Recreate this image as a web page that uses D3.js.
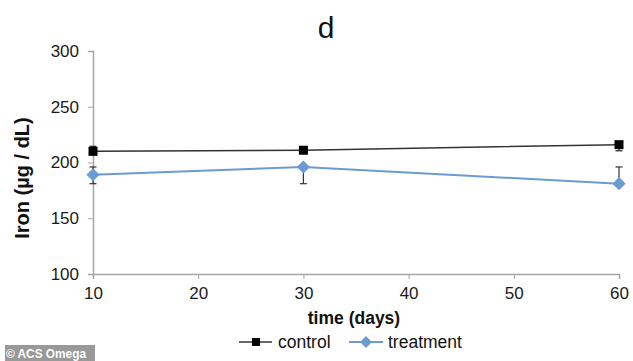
<!DOCTYPE html>
<html>
<head>
<meta charset="utf-8">
<style>
  body { margin: 0; background: #fff; }
  svg { display: block; font-family: 'Liberation Sans', Arial, sans-serif; }
</style>
</head>
<body>
<svg width="633" height="361"></svg>
<script src="https://d3js.org/d3.v7.min.js"></script>
<script>
// data
let days = [10, 30, 60]
let control = [210, 211, 216]
let controlPlus = [4.5, 0, 0]
let controlMinus = [0, 0, 5.5]
let treatment = [189, 196, 181]
let treatmentPlus = [7, 0, 15]
let treatmentMinus = [8, 15, 0]
let xTicks = [10, 20, 30, 40, 50, 60]
let yTicks = [100, 150, 200, 250, 300]

let svg = d3.select("svg")

let x = d3.scaleLinear().domain([10, 60]).range([93, 619])
let y = d3.scaleLinear().domain([100, 300]).range([274, 51])

let axisColor = "#a6a6a6"

// y axis
let yAxis = svg.append("g")
    .attr("transform", "translate(93,0)")
    .call(d3.axisLeft(y).tickValues(yTicks).tickSize(5).tickPadding(9))
yAxis.select(".domain").attr("stroke", axisColor).attr("stroke-width", 1.5)
yAxis.selectAll(".tick line").attr("stroke", axisColor)
yAxis.selectAll(".tick text").attr("font-size", 17).attr("fill", "#1a1a1a")
    .attr("font-family", "'Liberation Sans', Arial, sans-serif")

// x axis
let xAxis = svg.append("g")
    .attr("transform", "translate(0,274)")
    .call(d3.axisBottom(x).tickValues(xTicks).tickSize(5).tickPadding(8))
xAxis.select(".domain").attr("stroke", axisColor).attr("stroke-width", 1.5)
xAxis.selectAll(".tick line").attr("stroke", axisColor)
xAxis.selectAll(".tick text").attr("font-size", 17).attr("fill", "#1a1a1a")
    .attr("font-family", "'Liberation Sans', Arial, sans-serif")

function errorBars(vals, plus, minus, color) {
    let g = svg.append("g")
    days.forEach((d, i) => {
        let cx = x(d)
        let top = y(vals[i] + plus[i])
        let bot = y(vals[i] - minus[i])
        if (plus[i] > 0 || minus[i] > 0) {
            g.append("line").attr("x1", cx).attr("x2", cx)
                .attr("y1", top).attr("y2", bot)
                .attr("stroke", color).attr("stroke-width", 1.2)
        }
        if (plus[i] > 0) {
            g.append("line").attr("x1", cx - 3.5).attr("x2", cx + 3.5)
                .attr("y1", top).attr("y2", top)
                .attr("stroke", color).attr("stroke-width", 1.2)
        }
        if (minus[i] > 0) {
            g.append("line").attr("x1", cx - 3.5).attr("x2", cx + 3.5)
                .attr("y1", bot).attr("y2", bot)
                .attr("stroke", color).attr("stroke-width", 1.2)
        }
    })
}

errorBars(control, controlPlus, controlMinus, "#222")
errorBars(treatment, treatmentPlus, treatmentMinus, "#333")

let line = d3.line().x((d, i) => x(days[i])).y(d => y(d))

svg.append("path").datum(control)
    .attr("d", line).attr("fill", "none")
    .attr("stroke", "#333").attr("stroke-width", 1.5)

svg.append("path").datum(treatment)
    .attr("d", line).attr("fill", "none")
    .attr("stroke", "#6c9bd2").attr("stroke-width", 2)

svg.append("g").selectAll("rect").data(control).join("rect")
    .attr("x", (d, i) => x(days[i]) - 4.5)
    .attr("y", d => y(d) - 4.5)
    .attr("width", 9).attr("height", 9)
    .attr("fill", "#000")

let diamond = d3.symbol().type(d3.symbolDiamond2).size(110)
svg.append("g").selectAll("path").data(treatment).join("path")
    .attr("d", diamond)
    .attr("transform", (d, i) => "translate(" + x(days[i]) + "," + y(d) + ")")
    .attr("fill", "#6c9bd2")

// titles
svg.append("text").attr("x", 326).attr("y", 38)
    .attr("text-anchor", "middle").attr("font-size", 30).attr("fill", "#111")
    .text("d")

svg.append("text")
    .attr("transform", "translate(29,178) rotate(-90)")
    .attr("text-anchor", "middle").attr("font-size", 20)
    .attr("font-weight", "bold").attr("fill", "#111")
    .text("Iron (µg / dL)")

svg.append("text").attr("x", 354).attr("y", 324)
    .attr("text-anchor", "middle").attr("font-size", 17.5)
    .attr("font-weight", "bold").attr("fill", "#111")
    .text("time (days)")

// legend
let lg = svg.append("g")
lg.append("line").attr("x1", 239).attr("x2", 272).attr("y1", 342).attr("y2", 342)
    .attr("stroke", "#333").attr("stroke-width", 1.5)
lg.append("rect").attr("x", 252).attr("y", 338).attr("width", 8).attr("height", 8).attr("fill", "#000")
lg.append("text").attr("x", 278).attr("y", 348).attr("font-size", 17.5).attr("fill", "#111").text("control")
lg.append("line").attr("x1", 349).attr("x2", 383).attr("y1", 342).attr("y2", 342)
    .attr("stroke", "#6c9bd2").attr("stroke-width", 2)
lg.append("path").attr("d", d3.symbol().type(d3.symbolDiamond2).size(90))
    .attr("transform", "translate(366,342)").attr("fill", "#6c9bd2")
lg.append("text").attr("x", 388).attr("y", 348).attr("font-size", 17.5).attr("fill", "#111").text("treatment")

// watermark
svg.append("rect").attr("x", 5).attr("y", 345).attr("width", 90).attr("height", 16).attr("fill", "#999")
svg.append("text").attr("x", 6).attr("y", 357.5).attr("font-size", 13)
    .attr("font-weight", "bold").attr("fill", "#fff")
    .attr("textLength", 80).attr("lengthAdjust", "spacingAndGlyphs")
    .text("© ACS Omega")
</script>
</body>
</html>
